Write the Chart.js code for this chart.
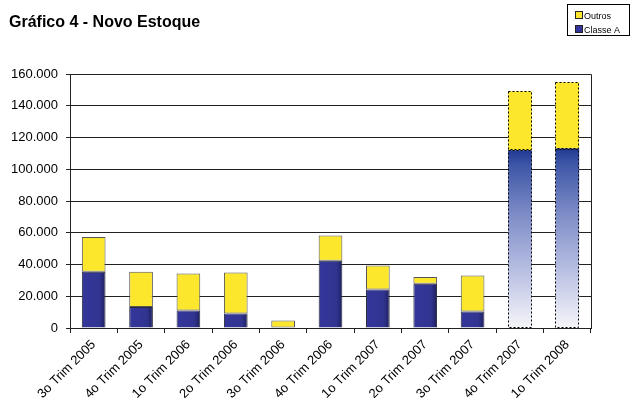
<!DOCTYPE html>
<html>
<head>
<meta charset="utf-8">
<script src="https://cdn.jsdelivr.net/npm/chart.js@4/dist/chart.umd.min.js"></script>
<style>
    html, body { margin: 0; padding: 0; background: #ffffff; }
    #wrap { position: relative; width: 636px; height: 407px; }
</style>
</head>
<body>
<div id="wrap"><canvas id="estoqueChart" width="636" height="407"></canvas></div>
<script>
// Dados (unidades)
var trimestres = ['3o Trim 2005', '4o Trim 2005', '1o Trim 2006', '2o Trim 2006', '3o Trim 2006',
    '4o Trim 2006', '1o Trim 2007', '2o Trim 2007', '3o Trim 2007', '4o Trim 2007', '1o Trim 2008'];
var classeA = [35500, 13300, 11000, 9100, 0, 42300, 24200, 27800, 10400, 112000, 113000];
var outros = [21800, 22200, 23300, 25800, 4700, 16000, 15100, 4400, 22600, 37100, 41800];
var eixoY = [0, 20000, 40000, 60000, 80000, 100000, 120000, 140000, 160000];
var projetados = [9, 10]; // barras com contorno tracejado (estimativa)

var FONTE = '"Liberation Sans", Arial, sans-serif';

function larguraBarra(chart) {
    var xs = chart.scales.x;
    return xs.width / trimestres.length * 0.5;
}

// Preenchimento azul: leve sombra na borda direita, gradiente vertical nas projeções
function corClasseA(context) {
    var chart = context.chart;
    var area = chart.chartArea;
    if (!area || !chart.scales.x) return '#333399';
    var i = context.dataIndex;
    var c = chart.ctx;
    if (projetados.indexOf(i) >= 0) {
        var topo = chart.scales.y.getPixelForValue(classeA[i]);
        var g = c.createLinearGradient(0, topo, 0, area.bottom);
        g.addColorStop(0, '#213a92');
        g.addColorStop(0.08, '#3d55a6');
        g.addColorStop(0.35, '#7b8ac6');
        g.addColorStop(0.7, '#bcc3e4');
        g.addColorStop(1, '#f6f6f9');
        return g;
    }
    var cx = chart.scales.x.getPixelForValue(i);
    var w = larguraBarra(chart);
    var gh = c.createLinearGradient(cx - w / 2, 0, cx + w / 2, 0);
    gh.addColorStop(0, '#34379b');
    gh.addColorStop(0.75, '#31348f');
    gh.addColorStop(1, '#1d1f5e');
    return gh;
}

function bordaNormal(context) {
    return projetados.indexOf(context.dataIndex) >= 0 ? 0 : 1;
}

// Título, legenda, contorno da área e bordas tracejadas
var extrasPlugin = {
    id: 'extras',
    beforeDraw: function (chart) {
        var c = chart.ctx;
        c.save();
        c.fillStyle = '#ffffff';
        c.fillRect(0, 0, chart.width, chart.height);
        c.restore();
    },
    afterDatasetsDraw: function (chart) {
        var c = chart.ctx;
        var area = chart.chartArea;
        c.save();
        // bordas superior e direita da área de plotagem
        c.strokeStyle = '#222222';
        c.lineWidth = 1;
        c.beginPath();
        c.moveTo(Math.round(area.left) + 0.5, Math.round(area.top) + 0.5);
        c.lineTo(Math.round(area.right) + 0.5, Math.round(area.top) + 0.5);
        c.lineTo(Math.round(area.right) + 0.5, Math.round(area.bottom) + 0.5);
        c.stroke();

        // contorno tracejado nas barras projetadas
        c.setLineDash([2, 2]);
        c.strokeStyle = '#000000';
        chart.data.datasets.forEach(function (ds, d) {
            var meta = chart.getDatasetMeta(d);
            projetados.forEach(function (i) {
                var el = meta.data[i];
                if (!el) return;
                var x0 = Math.round(el.x - el.width / 2) + 0.5;
                var x1 = Math.round(el.x + el.width / 2) - 0.5;
                var y0 = Math.round(el.y) + 0.5;
                var y1 = Math.round(el.base) - 0.5;
                c.strokeRect(x0, y0, x1 - x0, y1 - y0);
            });
        });
        c.setLineDash([]);

        // título
        c.fillStyle = '#000000';
        c.font = 'bold 16px ' + FONTE;
        c.textAlign = 'left';
        c.textBaseline = 'alphabetic';
        c.fillText('Gráfico 4 - Novo Estoque', 9, 27);

        // legenda
        c.strokeStyle = '#000000';
        c.strokeRect(567.5, 4.5, 62, 31);
        var itens = [['Outros', '#fce72c', 12], ['Classe A', '#333399', 26]];
        c.font = '9px ' + FONTE;
        itens.forEach(function (it) {
            c.fillStyle = it[1];
            c.fillRect(576, it[2], 6, 6);
            c.strokeStyle = '#222222';
            c.strokeRect(575.5, it[2] - 0.5, 7, 7);
            c.fillStyle = '#000000';
            c.fillText(it[0], 584, it[2] + 7);
        });
        c.restore();
    }
};

var ctx = document.getElementById('estoqueChart').getContext('2d');
var estoqueChart = new Chart(ctx, {
    type: 'bar',
    data: {
        labels: trimestres,
        datasets: [{
            label: 'Classe A',
            data: classeA,
            backgroundColor: corClasseA,
            borderColor: '#2a2a3a',
            borderWidth: bordaNormal,
            borderSkipped: 'bottom',
            barPercentage: 0.5,
            categoryPercentage: 1.0
        }, {
            label: 'Outros',
            data: outros,
            backgroundColor: '#fce72c',
            borderColor: '#555555',
            borderWidth: bordaNormal,
            borderSkipped: false,
            barPercentage: 0.5,
            categoryPercentage: 1.0
        }]
    },
    options: {
        responsive: false,
        animation: false,
        events: [],
        layout: { padding: { top: 74, right: 45, left: 0, bottom: 0 } },
        plugins: {
            legend: { display: false },
            title: { display: false },
            tooltip: { enabled: false }
        },
        scales: {
            x: {
                stacked: true,
                grid: { display: true, drawOnChartArea: false, drawTicks: true, tickLength: 5, offset: true, color: '#222222' },
                border: { color: '#222222' },
                ticks: {
                    color: '#000000',
                    font: { family: FONTE, size: 13 },
                    minRotation: 45,
                    maxRotation: 45,
                    padding: 4,
                    autoSkip: false
                },
                afterFit: function (scale) { scale.height = 79; }
            },
            y: {
                stacked: true,
                min: eixoY[0],
                max: eixoY[eixoY.length - 1],
                afterBuildTicks: function (scale) {
                    scale.ticks = eixoY.map(function (v) { return { value: v }; });
                },
                grid: { color: '#222222', tickLength: 4 },
                border: { color: '#222222' },
                ticks: {
                    color: '#000000',
                    font: { family: FONTE, size: 13 },
                    padding: 8,
                    callback: function (v) { return v.toLocaleString('pt-BR'); }
                },
                afterFit: function (scale) { scale.width = 70; }
            }
        }
    },
    plugins: [extrasPlugin]
});
</script>
</body>
</html>
